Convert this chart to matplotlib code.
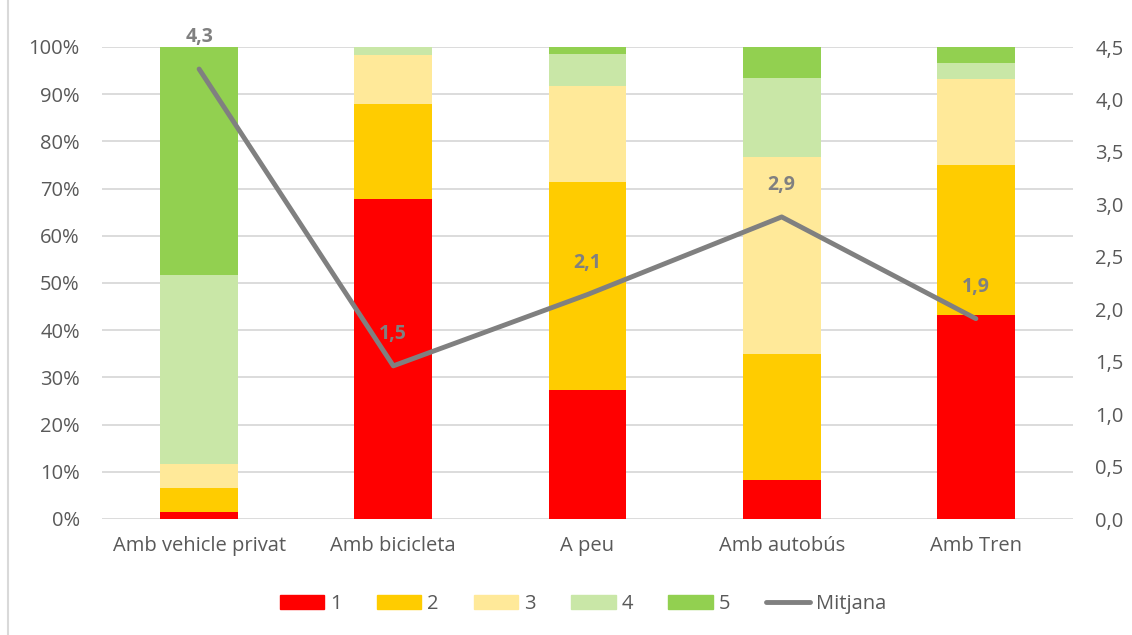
import matplotlib
matplotlib.use("Agg")
import matplotlib.pyplot as plt
import numpy as np
from matplotlib.patches import Rectangle
from matplotlib.lines import Line2D

categories = ["Amb vehicle privat", "Amb bicicleta", "A peu", "Amb autobús", "Amb Tren"]
series_names = ["1", "2", "3", "4", "5"]
s1 = [1.5, 67.8, 27.4, 8.3, 43.2]
s2 = [5.1, 20.1, 44.0, 26.6, 31.7]
s3 = [5.1, 10.4, 20.3, 41.8, 18.3]
s4 = [40.0, 1.7, 6.8, 16.7, 3.4]
s5 = [48.3, 0.0, 1.5, 6.6, 3.4]
mitjana = [4.29, 1.46, 2.14, 2.88, 1.91]
left_ticks = [0, 10, 20, 30, 40, 50, 60, 70, 80, 90, 100]
right_ticks = [0.0, 0.5, 1.0, 1.5, 2.0, 2.5, 3.0, 3.5, 4.0, 4.5]

colors = ["#FF0000", "#FFCC00", "#FFE999", "#C9E7A7", "#92D050"]
line_color = "#808080"
text_color = "#595959"
grid_color = "#D9D9D9"

plt.rcParams['font.family'] = ['Open Sans', 'DejaVu Sans']

fig = plt.figure(figsize=(11.32, 6.35), dpi=100)
ax = fig.add_axes([102/1132, 1-519/635, (1073-102)/1132, (519-47)/635])
ax2 = ax.twinx()

x = np.arange(len(categories))
bottom = np.zeros(len(categories))
for name, vals, c in zip(series_names, [s1, s2, s3, s4, s5], colors):
    v = np.array(vals) / 100.0
    ax.bar(x, v, 0.4, bottom=bottom, color=c, label=name, zorder=2)
    bottom += v

ax.set_xlim(-0.5, len(categories) - 0.5)
ax.set_ylim(0, 1)
ax.set_yticks([t / 100 for t in left_ticks])
ax.set_yticklabels([f"{t}%" for t in left_ticks])
ax.yaxis.grid(True, color=grid_color, linewidth=1.3, zorder=0)
ax.set_axisbelow(True)
ax.set_xticks(x)
ax.set_xticklabels(categories)
ax.tick_params(axis='both', length=0, colors=text_color, labelsize=14.5)
ax.tick_params(axis='x', pad=12)
ax.tick_params(axis='y', pad=16)
for sp in ax.spines.values():
    sp.set_visible(False)

ax2.plot(x, mitjana, color=line_color, linewidth=3.5, solid_capstyle='round',
         solid_joinstyle='round', label="Mitjana", zorder=3)
ax2.set_ylim(0, 4.5)
ax2.set_yticks(right_ticks)
ax2.set_yticklabels([f"{t:.1f}".replace(".", ",") for t in right_ticks])
ax2.tick_params(axis='y', length=0, colors=text_color, labelsize=14.5, pad=16)
for sp in ax2.spines.values():
    sp.set_visible(False)
for xi, m in zip(x, mitjana):
    ax2.annotate(f"{m:.1f}".replace(".", ","), (xi, m), xytext=(0, 23),
                 textcoords='offset points', ha='center', va='center',
                 fontsize=14, fontweight='bold', color=line_color)

handles = [Rectangle((0, 0), 1, 1, color=c) for c in colors]
handles.append(Line2D([0], [0], color=line_color, linewidth=3.5, solid_capstyle='round'))
labels = series_names + ["Mitjana"]
leg = fig.legend(handles, labels, loc='center', bbox_to_anchor=(583/1132, 1-604/635),
                 ncol=6, frameon=False, fontsize=14.5, handlelength=2.2, handleheight=0.7,
                 handletextpad=0.3, columnspacing=1.75, labelcolor=text_color)

fig.add_artist(Rectangle((8/1132, -0.01), 2, 2, transform=fig.transFigure,
                         fill=False, edgecolor=grid_color, linewidth=1.5))

fig.savefig("out.png", dpi=100)
